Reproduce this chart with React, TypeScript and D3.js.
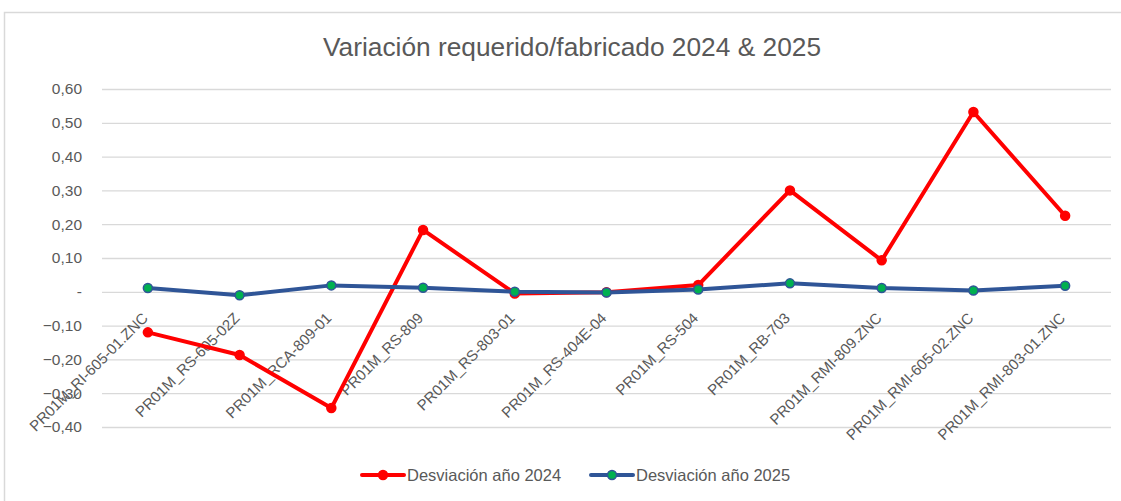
import { useEffect, useRef } from "react";
import * as d3 from "d3";

const categories = [
  "PR01M_RI-605-01.ZNC",
  "PR01M_RS-605-02Z",
  "PR01M_RCA-809-01",
  "PR01M_RS-809",
  "PR01M_RS-803-01",
  "PR01M_RS-404E-04",
  "PR01M_RS-504",
  "PR01M_RB-703",
  "PR01M_RMI-809.ZNC",
  "PR01M_RMI-605-02.ZNC",
  "PR01M_RMI-803-01.ZNC",
];
const desv2024 = [-0.12, -0.187, -0.344, 0.183, -0.005, -0.001, 0.02, 0.3, 0.093, 0.532, 0.225];
const desv2025 = [0.011, -0.01, 0.019, 0.012, 0.0, -0.002, 0.007, 0.025, 0.011, 0.004, 0.018];
const yTicks = [-0.4, -0.3, -0.2, -0.1, 0, 0.1, 0.2, 0.3, 0.4, 0.5, 0.6];
const seriesNames = ["Desviación año 2024", "Desviación año 2025"];

const W = 1121;
const H = 501;
const FONT = "'Liberation Sans', Arial, sans-serif";
const GREY = "#595959";

const App = () => {
  const ref = useRef<SVGSVGElement>(null);

  useEffect(() => {
    const svg = d3.select(ref.current);
    svg.selectAll("*").remove();

    // chart frame
    svg.append("rect")
      .attr("x", 4.5).attr("y", 12.5)
      .attr("width", W + 10).attr("height", H + 10)
      .attr("fill", "white").attr("stroke", "#d9d9d9").attr("stroke-width", 1.5);

    svg.append("text")
      .attr("x", 572).attr("y", 56)
      .attr("text-anchor", "middle")
      .attr("font-family", FONT).attr("font-size", 26.3)
      .attr("fill", GREY)
      .text("Variación requerido/fabricado 2024 & 2025");

    const x = d3.scaleBand().domain(categories).range([102, 1111]);
    const y = d3.scaleLinear().domain([-0.4, 0.6]).range([427, 89]);
    const fmt = (v: number) => (Math.abs(v) < 1e-9 ? "-" : d3.format(".2f")(v).replace(".", ","));

    const yAxis = d3.axisLeft(y).tickValues(yTicks).tickSize(-(1111 - 102)).tickFormat((d) => fmt(+d));
    const gy = svg.append("g").attr("transform", "translate(102,0)").call(yAxis);
    gy.select(".domain").remove();
    gy.selectAll(".tick line").attr("stroke", "#d9d9d9").attr("stroke-width", 1.3);
    gy.selectAll(".tick text")
      .attr("x", -20)
      .attr("fill", GREY)
      .attr("font-family", FONT)
      .attr("font-size", 15.5);

    const cx = (i: number) => (x(categories[i]) as number) + x.bandwidth() / 2;

    // category labels, rotated
    svg.append("g").selectAll("text")
      .data(categories)
      .join("text")
      .attr("transform", (_, i) => `translate(${cx(i) + 1},${319}) rotate(-45)`)
      .attr("text-anchor", "end")
      .attr("font-family", FONT)
      .attr("font-size", 15)
      .attr("fill", GREY)
      .text((d) => d);

    const line = d3.line<number>().x((_, i) => cx(i)).y((d) => y(d));

    const series = [
      { data: desv2024, stroke: "#ff0000", fill: "#ff0000" },
      { data: desv2025, stroke: "#2f5597", fill: "#00b050" },
    ];

    series.forEach((s) => {
      svg.append("path")
        .datum(s.data)
        .attr("d", line)
        .attr("fill", "none")
        .attr("stroke", s.stroke)
        .attr("stroke-width", 4)
        .attr("stroke-linejoin", "round");
      svg.append("g").selectAll("circle")
        .data(s.data)
        .join("circle")
        .attr("cx", (_, i) => cx(i))
        .attr("cy", (d) => y(d))
        .attr("r", 4.5)
        .attr("fill", s.fill)
        .attr("stroke", s.stroke)
        .attr("stroke-width", 1.5);
    });

    // legend
    const lx = [362, 591];
    series.forEach((s, i) => {
      const g = svg.append("g").attr("transform", `translate(${lx[i]},475)`);
      g.append("line").attr("x1", 0).attr("x2", 42).attr("y1", 0).attr("y2", 0)
        .attr("stroke", s.stroke).attr("stroke-width", 4).attr("stroke-linecap", "round");
      g.append("circle").attr("cx", 21).attr("cy", 0).attr("r", 4.5)
        .attr("fill", s.fill).attr("stroke", s.stroke).attr("stroke-width", 1.5);
      g.append("text").attr("x", 45).attr("y", 5.5)
        .attr("font-family", FONT).attr("font-size", 16.5).attr("fill", GREY)
        .text(seriesNames[i]);
    });
  }, []);

  return (
    <svg ref={ref} width={W} height={H} style={{ position: "absolute", left: 0, top: 0, background: "white" }} />
  );
};

export default App;
